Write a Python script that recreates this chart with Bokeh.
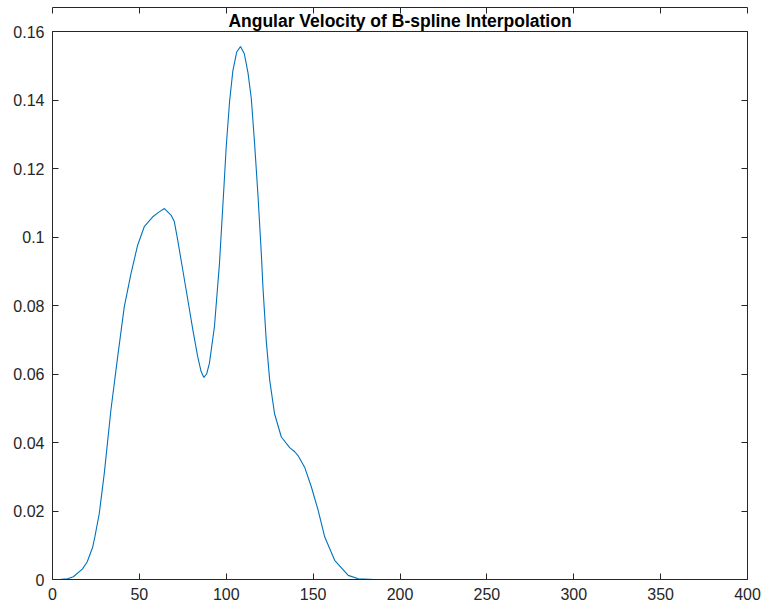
from bokeh.plotting import figure
from bokeh.models import Range1d, FixedTicker, LinearAxis, Title
from bokeh.embed import file_html
from bokeh.resources import INLINE

# Angular velocity samples along the B-spline path
t = [0, 5, 8.6, 12, 17.3, 20, 23.1, 24.4, 26.9, 29.8, 33.6, 37.5, 41.3, 45.2,
     49.0, 52.8, 57.7, 61, 64.4, 68.2, 70.1, 72.1, 75.0, 77.9, 80.8, 83.6,
     85.5, 87.1, 88.7, 90.3, 93.2, 96.1, 98.6, 100.0, 101.9, 103.8, 106,
     108.2, 110.4, 112.5, 114.4, 116.3, 118.3, 120.2, 121.1, 123.0, 125.0,
     127.8, 131.7, 136.5, 139.4, 141.3, 145.1, 149.0, 152.9, 156.7, 162.4,
     170.2, 176, 185, 400]
omega = [0, 0.00005, 0.0002, 0.0008, 0.0031, 0.0052, 0.0094, 0.0125, 0.0192,
         0.0310, 0.0494, 0.0650, 0.0796, 0.0894, 0.0976, 0.1030, 0.1059,
         0.1072, 0.1083, 0.1064, 0.1045, 0.0990, 0.0903, 0.0816, 0.0728,
         0.0650, 0.0608, 0.0590, 0.0600, 0.0631, 0.0738, 0.0923, 0.1140,
         0.1265, 0.1395, 0.1485, 0.1540, 0.1556, 0.1535, 0.1480, 0.1405,
         0.1274, 0.1118, 0.0950, 0.0855, 0.0699, 0.0582, 0.0484, 0.0416,
         0.0385, 0.0373, 0.0362, 0.0328, 0.0270, 0.0202, 0.0124, 0.0056,
         0.0012, 0.0002, 0.0, 0.0]

x_ticks = [0, 50, 100, 150, 200, 250, 300, 350, 400]
y_ticks = [0, 0.02, 0.04, 0.06, 0.08, 0.1, 0.12, 0.14, 0.16]
y_tick_labels = ["0", "0.02", "0.04", "0.06", "0.08", "0.1", "0.12", "0.14", "0.16"]

AX = "#262626"
FONT = "Liberation Sans"

p = figure(width=761, height=608, output_backend="svg", toolbar_location=None,
           x_range=Range1d(0, 400), y_range=Range1d(0, 0.16),
           min_border_left=52, min_border_right=14, min_border_top=31,
           min_border_bottom=29, title=None)
p.background_fill_color = "white"
p.border_fill_color = "white"
p.outline_line_color = AX
p.outline_line_width = 1
p.xgrid.visible = False
p.ygrid.visible = False

p.add_layout(Title(text="Angular Velocity of B-spline Interpolation", align="center",
                   text_font=FONT, text_font_size="17.5px", text_font_style="bold",
                   text_color="#000000", standoff=2), "above")


def style(axis, labels=True):
    axis.axis_line_color = AX
    axis.major_tick_line_color = AX
    axis.major_tick_in = 6
    axis.major_tick_out = 0
    axis.minor_tick_line_color = None
    axis.major_label_text_font = FONT
    axis.major_label_text_font_size = "16px"
    axis.major_label_text_color = AX
    axis.major_label_standoff = 8
    if not labels:
        # tick marks only on the mirrored box edges
        axis.major_label_text_color = None
        axis.major_label_text_font_size = "1px"
        axis.major_label_standoff = 0


p.xaxis.ticker = FixedTicker(ticks=x_ticks)
p.yaxis.ticker = FixedTicker(ticks=y_ticks)
p.yaxis.major_label_overrides = {v: s for v, s in zip(y_ticks, y_tick_labels)}
style(p.xaxis[0])
style(p.yaxis[0])
p.xaxis[0].major_label_standoff = 8

top_axis = LinearAxis(ticker=FixedTicker(ticks=x_ticks))
right_axis = LinearAxis(ticker=FixedTicker(ticks=y_ticks))
style(top_axis, labels=False)
style(right_axis, labels=False)
p.add_layout(top_axis, "above")
p.add_layout(right_axis, "right")

p.line(t, omega, line_color="#0072BD", line_width=1.1)

open("out.html", "w").write(file_html(p, INLINE))
